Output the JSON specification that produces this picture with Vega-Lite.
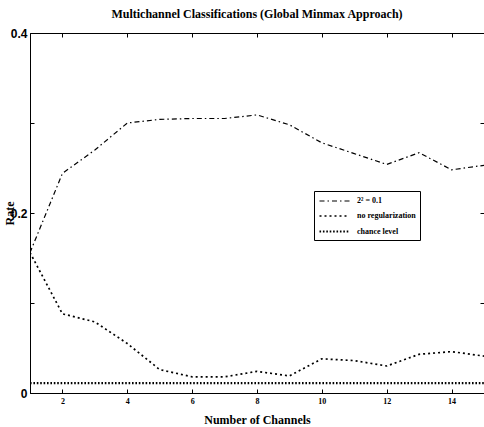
{
  "$schema": "https://vega.github.io/schema/vega-lite/v6.json",
  "autosize": {"type": "none"},
  "padding": {"left": 30, "top": 33, "right": 0, "bottom": 34},
  "width": 454,
  "height": 360,
  "background": "white",
  "config": {
    "view": {"stroke": "black", "strokeWidth": 1},
    "font": "Liberation Serif"
  },
  "title": {
    "text": "Multichannel Classifications (Global Minmax Approach)",
    "font": "Liberation Serif",
    "fontWeight": "bold",
    "fontSize": 12,
    "color": "black",
    "offset": 6,
    "anchor": "middle"
  },
  "data": {
    "values": [
      {"n": 1, "rate": 0.156, "series": "2² = 0.1"},
      {"n": 2, "rate": 0.244, "series": "2² = 0.1"},
      {"n": 3, "rate": 0.270, "series": "2² = 0.1"},
      {"n": 4, "rate": 0.300, "series": "2² = 0.1"},
      {"n": 5, "rate": 0.304, "series": "2² = 0.1"},
      {"n": 6, "rate": 0.305, "series": "2² = 0.1"},
      {"n": 7, "rate": 0.305, "series": "2² = 0.1"},
      {"n": 8, "rate": 0.309, "series": "2² = 0.1"},
      {"n": 9, "rate": 0.298, "series": "2² = 0.1"},
      {"n": 10, "rate": 0.278, "series": "2² = 0.1"},
      {"n": 11, "rate": 0.266, "series": "2² = 0.1"},
      {"n": 12, "rate": 0.254, "series": "2² = 0.1"},
      {"n": 13, "rate": 0.267, "series": "2² = 0.1"},
      {"n": 14, "rate": 0.248, "series": "2² = 0.1"},
      {"n": 15, "rate": 0.253, "series": "2² = 0.1"},
      {"n": 1, "rate": 0.156, "series": "no regularization"},
      {"n": 2, "rate": 0.088, "series": "no regularization"},
      {"n": 3, "rate": 0.079, "series": "no regularization"},
      {"n": 4, "rate": 0.055, "series": "no regularization"},
      {"n": 5, "rate": 0.026, "series": "no regularization"},
      {"n": 6, "rate": 0.018, "series": "no regularization"},
      {"n": 7, "rate": 0.018, "series": "no regularization"},
      {"n": 8, "rate": 0.024, "series": "no regularization"},
      {"n": 9, "rate": 0.019, "series": "no regularization"},
      {"n": 10, "rate": 0.038, "series": "no regularization"},
      {"n": 11, "rate": 0.036, "series": "no regularization"},
      {"n": 12, "rate": 0.030, "series": "no regularization"},
      {"n": 13, "rate": 0.043, "series": "no regularization"},
      {"n": 14, "rate": 0.046, "series": "no regularization"},
      {"n": 15, "rate": 0.041, "series": "no regularization"},
      {"n": 1, "rate": 0.011, "series": "chance level"},
      {"n": 15, "rate": 0.011, "series": "chance level"}
    ]
  },
  "layer": [
    {
      "mark": {"type": "line", "color": "black", "strokeCap": "butt", "clip": true},
      "encoding": {
        "x": {
          "field": "n", "type": "quantitative",
          "scale": {"domain": [1, 15], "nice": false, "zero": false},
          "axis": {
            "values": [2, 4, 6, 8, 10, 12, 14],
            "title": "Number of Channels",
            "titleFont": "Liberation Serif", "titleFontWeight": "bold", "titleFontSize": 12, "titleColor": "black",
            "titlePadding": 9,
            "labelFont": "Liberation Serif", "labelFontWeight": "bold", "labelFontSize": 8, "labelColor": "black",
            "tickSize": -4, "labelPadding": 8, "tickColor": "black", "domainColor": "black", "grid": false
          }
        },
        "y": {
          "field": "rate", "type": "quantitative",
          "scale": {"domain": [0, 0.4], "nice": false},
          "axis": {
            "values": [0, 0.1, 0.2, 0.3, 0.4],
            "format": "~g",
            "labelExpr": "datum.value == 0.1 || datum.value == 0.3 ? '' : datum.label",
            "title": "Rate",
            "titleFont": "Liberation Serif", "titleFontWeight": "bold", "titleFontSize": 12, "titleColor": "black",
            "titlePadding": -6,
            "labelFont": "Liberation Sans", "labelFontWeight": "bold", "labelFontSize": 12, "labelColor": "black",
            "tickSize": -4, "labelPadding": 7, "tickColor": "black", "domainColor": "black", "grid": false
          }
        },
        "detail": {"field": "series"},
        "strokeDash": {
          "field": "series", "type": "nominal",
          "scale": {
            "domain": ["2² = 0.1", "no regularization", "chance level"],
            "range": [[5, 3, 1.5, 3], [2, 3], [1.6, 1.8]]
          },
          "legend": {
            "title": null,
            "orient": "none",
            "legendX": 284,
            "legendY": 158,
            "strokeColor": "black",
            "fillColor": "white",
            "padding": 4,
            "symbolType": "M-3,0H3",
            "symbolSize": 100,
            "symbolOffset": 10,
            "symbolStrokeColor": "black",
            "labelFont": "Liberation Serif", "labelFontWeight": "bold", "labelFontSize": 8, "labelColor": "black",
            "rowPadding": 5,
            "labelOffset": 16
          }
        },
        "strokeWidth": {
          "field": "series", "type": "nominal",
          "scale": {
            "domain": ["2² = 0.1", "no regularization", "chance level"],
            "range": [1.2, 2.2, 1.8]
          },
          "legend": {
            "title": null,
            "orient": "none",
            "legendX": 284,
            "legendY": 158,
            "strokeColor": "black",
            "fillColor": "white",
            "padding": 4,
            "symbolType": "M-3,0H3",
            "symbolSize": 100,
            "symbolOffset": 10,
            "symbolStrokeColor": "black",
            "labelFont": "Liberation Serif", "labelFontWeight": "bold", "labelFontSize": 8, "labelColor": "black",
            "rowPadding": 5,
            "labelOffset": 16
          }
        }
      }
    },
    {
      "mark": {"type": "line", "opacity": 0},
      "encoding": {
        "x": {
          "field": "n", "type": "quantitative",
          "axis": {"orient": "top", "values": [2, 4, 6, 8, 10, 12, 14], "labels": false, "domain": false, "title": null, "tickSize": -4, "tickColor": "black", "grid": false}
        },
        "y": {
          "field": "rate", "type": "quantitative",
          "axis": {"orient": "right", "values": [0.1, 0.2, 0.3], "labels": false, "domain": false, "title": null, "tickSize": -4, "tickColor": "black", "grid": false}
        }
      }
    }
  ],
  "resolve": {"axis": {"x": "independent", "y": "independent"}}
}
